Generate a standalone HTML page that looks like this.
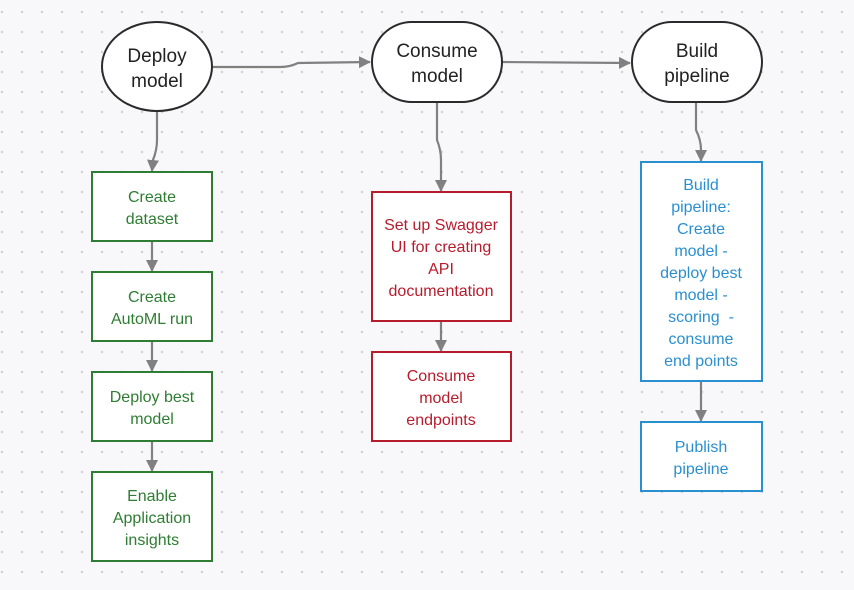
<!DOCTYPE html>
<html><head><style>
body{margin:0;background:#f8f8fa;}
svg{display:block}
text{font-family:"Liberation Sans","DejaVu Sans",sans-serif;text-anchor:middle}
.n{font-size:19px;fill:#222}
.g{font-size:16px;fill:#2e7d32}
.r{font-size:16px;fill:#b71c2c}
.b{font-size:16px;fill:#2a8fd0}
</style></head><body>
<svg width="854" height="590" viewBox="0 0 854 590">
<defs>
<pattern id="d" x="2" y="12" width="20" height="20" patternUnits="userSpaceOnUse"><circle cx="0" cy="0" r="1.2" fill="#cfcfd6"/><circle cx="20" cy="0" r="1.2" fill="#cfcfd6"/><circle cx="0" cy="20" r="1.2" fill="#cfcfd6"/><circle cx="20" cy="20" r="1.2" fill="#cfcfd6"/></pattern>
<marker id="a" markerWidth="14" markerHeight="14" refX="11" refY="6" orient="auto" markerUnits="userSpaceOnUse"><path d="M0,0 L12,6 L0,12 z" fill="#808080"/></marker>
</defs>
<rect width="854" height="590" fill="#f8f8fa"/>
<rect width="854" height="590" fill="url(#d)"/>
<g stroke="#808080" stroke-width="2.2" fill="none" marker-end="url(#a)">
<path d="M212,67 L280,67 Q290,67 298,63 L370,62"/>
<path d="M502,62 L630,63"/>
<path d="M157,111 L157,140 Q157,150 153,160 L152,171"/>
<path d="M437,102 L437,140 Q441,150 441,160 L441,191"/>
<path d="M696,102 L696,130 Q701,140 701,150 L701,161"/>
<path d="M152,241 L152,271"/>
<path d="M152,341 L152,371"/>
<path d="M152,441 L152,471"/>
<path d="M441,321 L441,351"/>
<path d="M701,381 L701,421"/>
</g>
<g stroke="#2a2a2a" stroke-width="2" fill="#fff">
<rect x="102" y="22" width="110" height="89" rx="55" ry="44.5"/>
<rect x="372" y="22" width="130" height="80" rx="40"/>
<rect x="632" y="22" width="130" height="80" rx="40"/>
</g>
<text class="n" x="157" y="62">Deploy</text><text class="n" x="157" y="87">model</text>
<text class="n" x="437" y="57">Consume</text><text class="n" x="437" y="82">model</text>
<text class="n" x="697" y="57">Build</text><text class="n" x="697" y="82">pipeline</text>
<g fill="#fff" stroke-width="2">
<rect x="92" y="172" width="120" height="69" stroke="#2e7d32"/>
<rect x="92" y="272" width="120" height="69" stroke="#2e7d32"/>
<rect x="92" y="372" width="120" height="69" stroke="#2e7d32"/>
<rect x="92" y="472" width="120" height="89" stroke="#2e7d32"/>
<rect x="372" y="192" width="139" height="129" stroke="#b71c2c"/>
<rect x="372" y="352" width="139" height="89" stroke="#b71c2c"/>
<rect x="641" y="162" width="121" height="219" stroke="#2a8fd0"/>
<rect x="641" y="422" width="121" height="69" stroke="#2a8fd0"/>
</g>
<text class="g" x="152" y="202">Create</text><text class="g" x="152" y="224">dataset</text>
<text class="g" x="152" y="302">Create</text><text class="g" x="152" y="324">AutoML run</text>
<text class="g" x="152" y="402">Deploy best</text><text class="g" x="152" y="424">model</text>
<text class="g" x="152" y="501">Enable</text><text class="g" x="152" y="523">Application</text><text class="g" x="152" y="545">insights</text>
<text class="r" x="441" y="230">Set up Swagger</text><text class="r" x="441" y="252">UI for creating</text><text class="r" x="441" y="274">API</text><text class="r" x="441" y="296">documentation</text>
<text class="r" x="441" y="381">Consume</text><text class="r" x="441" y="403">model</text><text class="r" x="441" y="425">endpoints</text>
<text class="b" x="701" y="190">Build</text><text class="b" x="701" y="212">pipeline:</text><text class="b" x="701" y="234">Create</text><text class="b" x="701" y="256">model -</text><text class="b" x="701" y="278">deploy best</text><text class="b" x="701" y="300">model -</text><text class="b" x="701" y="322">scoring&#160; -</text><text class="b" x="701" y="344">consume</text><text class="b" x="701" y="366">end points</text>
<text class="b" x="701" y="452">Publish</text><text class="b" x="701" y="474">pipeline</text>
</svg>
</body></html>
